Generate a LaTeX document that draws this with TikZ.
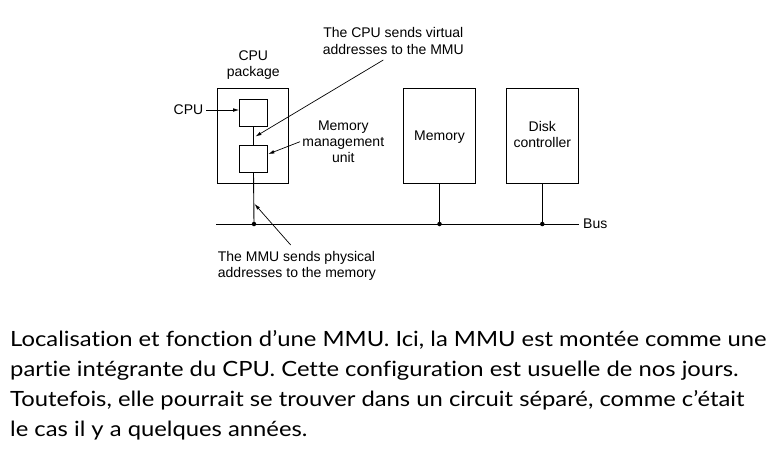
\documentclass[tikz,border=0pt]{standalone}
\usepackage{fontspec}
\setmainfont{Liberation Sans}
\newfontfamily\capfont[FakeStretch=1.133,Ligatures=NoCommon]{Lato}
\usetikzlibrary{arrows.meta,calc}
\begin{document}
\begin{tikzpicture}[x=1pt,y=-1pt,
  box/.style={draw,line width=0.9pt,inner sep=0pt},
  lbl/.style={font=\fontsize{14}{16.2}\selectfont,align=center,inner sep=0pt},
  wire/.style={line width=0.9pt},
  arr/.style={line width=0.7pt,-{Latex[length=6pt,width=3.6pt]}},
  dot/.style={circle,fill,inner sep=0pt,minimum size=4.5pt},
  captxt/.style={font=\capfont\fontsize{21}{26}\selectfont,anchor=base west,inner sep=0pt}]
\useasboundingbox (0,0) rectangle (780,451);
% boxes
\node[box,minimum width=71pt,minimum height=95pt] (pkg) at (252.8,135.8) {};
\node[box,minimum width=27.7pt,minimum height=27.7pt] (cpu) at (253.5,112.9) {};
\node[box,minimum width=27.7pt,minimum height=27.3pt] (mmu) at (253.5,158.7) {};
\node[box,minimum width=72.4pt,minimum height=95pt] (mem) at (439.5,135.8) {};
\node[box,minimum width=72pt,minimum height=95pt] (disk) at (542.3,135.8) {};
\node[lbl] at ([yshift=-1pt]mem.center) {Memory};
\node[lbl] at ([yshift=1.5pt]disk.center) {Disk\\controller};
% bus
\coordinate (busL) at (216,224);
\coordinate (busR) at (579,224);
\node[dot] (d1) at (254,224) {};
\node[dot] (d2) at (439.5,224) {};
\node[dot] (d3) at (542.3,224) {};
\draw[wire] (busL) -- (busR);
\node[lbl,anchor=west] (bus) at (583,224) {Bus};
\draw[wire] (cpu.south) -- (mmu.north);
\draw[wire] (mmu.south) -- (d1.center);
\draw[wire] (mem.south) -- (d2.center);
\draw[wire] (disk.south) -- (d3.center);
% labels
\node[lbl] (pkglbl) at (253.3,65) {CPU\\package};
\node[lbl,anchor=east] (cpulbl) at (203.5,110) {CPU};
\draw[arr] (cpulbl.east) ++(2.5,0) coordinate (cpuA) -- (cpu.west |- cpuA);
\node[lbl] (mmulbl) at (343.3,141.5) {Memory\\management\\unit};
\coordinate (mmuA) at (300,141.7);
\draw[arr] (mmuA) -- (268.3,154) coordinate (mmuT);
\node[lbl] (vtext) at (393.3,41) {The CPU sends virtual\\addresses to the MMU};
\coordinate (vA) at (383.3,60);
\coordinate (vT) at (255.5,136.5);
\draw[arr] (vA) -- (vT);
\node[lbl,align=left,anchor=west] (ptext) at (217.7,266) {The MMU sends physical\\addresses to the memory};
\coordinate (pA) at (290.7,245);
\coordinate (pT) at (254.6,204);
\draw[arr] (pA) -- (pT);
% caption
\node[captxt] (c1) at (10,346) {Localisation et fonction d’une MMU. Ici, la MMU est montée comme une};
\node[captxt] (c2) at (10,376.7) {partie intégrante du CPU. Cette configuration est usuelle de nos jours.};
\node[captxt] (c3) at (10,406.7) {Toutefois, elle pourrait se trouver dans un circuit séparé, comme c’était};
\node[captxt] (c4) at (10,436.7) {le cas il y a quelques années.};
\end{tikzpicture}
\end{document}
